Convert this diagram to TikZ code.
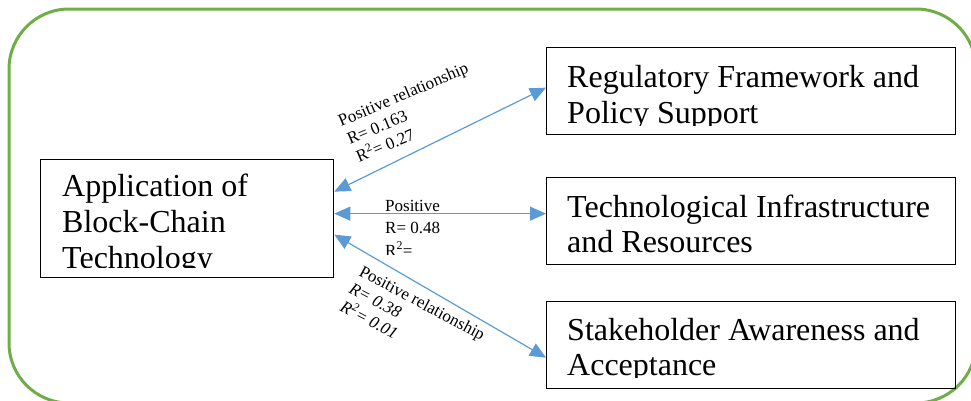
\documentclass[tikz,border=0pt]{standalone}
\usepackage{fontspec}
\setmainfont{Liberation Serif}
\usetikzlibrary{arrows.meta}
\definecolor{frameGreen}{HTML}{70AD47}
\definecolor{linkBlue}{HTML}{5B9BD5}
\tikzset{
  box/.style={draw=black, line width=1.3pt, rectangle, inner sep=0pt, anchor=north west},
  boxtext/.style={anchor=base west, inner sep=0pt, font=\fontsize{32}{36}\selectfont},
  lbl/.style={anchor=base west, inner sep=0pt, font=\fontsize{17}{20}\selectfont},
  link/.style={draw=linkBlue, line width=1.2pt,
    {Triangle[length=16pt,width=14pt,fill=linkBlue]}-{Triangle[length=16pt,width=14pt,fill=linkBlue]}}
}
\begin{document}
\begin{tikzpicture}[x=1pt,y=-1pt]
\useasboundingbox (0,0) rectangle (971,400);
\clip (0,0) rectangle (971,400);

% outer rounded frame
\draw[frameGreen, line width=3pt, rounded corners=60pt] (9,9) rectangle (976,403);

% boxes
\node[box, minimum width=293pt, minimum height=118pt] (app) at (40,159) {};
\node[box, minimum width=409pt, minimum height=87pt] (reg) at (546,47) {};
\node[box, minimum width=409pt, minimum height=87pt] (tech) at (546,177) {};
\node[box, minimum width=409pt, minimum height=87pt] (stake) at (546,301) {};

% box texts, cut off at the lower margin of each box
\begin{scope}
  \clip (42,161) rectangle (331,267);
  \node[boxtext] (appA) at (62,196) {Application of};
  \node[boxtext] (appB) at (62,232) {Block-Chain};
  \node[boxtext] (appC) at (62,268) {Technology};
\end{scope}
\begin{scope}
  \clip (548,49) rectangle (953,125);
  \node[boxtext] (regA) at (567,87) {Regulatory Framework and};
  \node[boxtext] (regB) at (567,123) {Policy Support};
\end{scope}
\begin{scope}
  \clip (548,179) rectangle (953,262);
  \node[boxtext] (techA) at (567,217) {Technological Infrastructure};
  \node[boxtext] (techB) at (567,252) {and Resources};
\end{scope}
\begin{scope}
  \clip (548,303) rectangle (953,377);
  \node[boxtext] (stakeA) at (567,340) {Stakeholder Awareness and};
  \node[boxtext] (stakeB) at (567,375) {Acceptance};
\end{scope}

% connectors
\draw[link] ([yshift=27pt]app.east) -- ([yshift=3.5pt]reg.west);
\draw[link] ([yshift=5pt]app.east) -- ([yshift=7.5pt]tech.west);
\draw[link] ([yshift=-16pt]app.east) -- ([yshift=-12.5pt]stake.west);

% connector labels
\node[lbl, rotate=23] (l1a) at (341,127) {Positive relationship};
\node[lbl, rotate=23] (l1b) at (350,145) {R= 0.163};
\node[lbl, rotate=23] (l1c) at (359,163) {R\textsuperscript{2}= 0.27};

\node[lbl] (l2a) at (385,211) {Positive};
\node[lbl] (l2b) at (385,233) {R= 0.48};
\begin{scope}
  \clip (380,240) rectangle (450,254);
  \node[lbl] (l2c) at (385,256) {R\textsuperscript{2}=};
\end{scope}

\node[lbl, rotate=-28] (l3a) at (358,275) {Positive relationship};
\node[lbl, rotate=-28] (l3b) at (348,292) {\itshape R= 0.38};
\node[lbl, rotate=-28] (l3c) at (339,310) {\itshape R\textsuperscript{2}= 0.01};
\end{tikzpicture}
\end{document}
